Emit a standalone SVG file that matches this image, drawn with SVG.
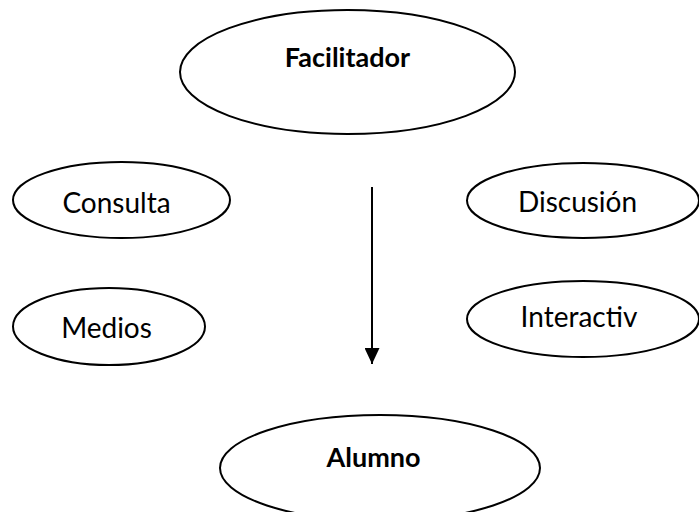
<svg xmlns="http://www.w3.org/2000/svg" width="699" height="512" viewBox="0 0 699 512">
<defs>
<style>
.node ellipse{fill:#fff;stroke:#000;stroke-width:2}
.node text{font-family:Lato,"Open Sans",sans-serif;font-size:28px;fill:#000;text-anchor:middle}
.node text.b{font-weight:bold;font-size:27px}
.conn line{stroke:#000;stroke-width:2}
</style>
<marker id="ah" markerWidth="16" markerHeight="15" refX="16" refY="7.5" orient="auto" markerUnits="userSpaceOnUse" viewBox="0 0 16 15">
<path d="M0,0 L16,7.5 L0,15 Z" fill="#000"/>
</marker>
</defs>
<rect width="699" height="512" fill="#fff"/>
<g id="facilitador" class="node"><ellipse cx="347.5" cy="72" rx="167.5" ry="62"/><text class="b" x="347.5" y="67">Facilitador</text></g>
<g id="consulta" class="node"><ellipse cx="121.5" cy="200" rx="108.5" ry="38"/><text x="116.5" y="213">Consulta</text></g>
<g id="discusion" class="node"><ellipse cx="583" cy="200.5" rx="116" ry="37.5"/><text x="577.5" y="212">Discusión</text></g>
<g id="medios" class="node"><ellipse cx="109" cy="326.5" rx="96" ry="38.5"/><text x="106.5" y="338">Medios</text></g>
<g id="interactiv" class="node"><ellipse cx="583" cy="319" rx="116" ry="38"/><text x="579" y="327">Interactiv</text></g>
<g id="alumno" class="node"><ellipse cx="380" cy="468" rx="160" ry="53"/><text class="b" x="373.5" y="467">Alumno</text></g>
<g id="connectors" class="conn"><line x1="372" y1="187" x2="372" y2="364" marker-end="url(#ah)"/></g>
</svg>
